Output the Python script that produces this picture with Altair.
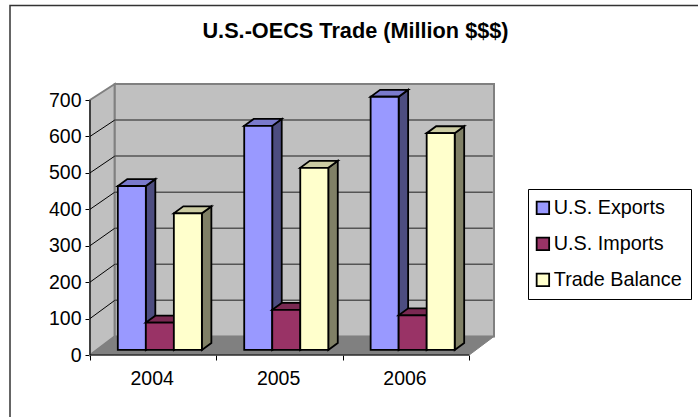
import altair as alt
import pandas as pd

# Trade figures by year, in million dollars
years = ["2004", "2005", "2006"]
series = ["U.S. Exports", "U.S. Imports", "Trade Balance"]
exports = [450, 615, 695]
imports = [75, 110, 95]
balance = [375, 500, 595]
value_ticks = [0, 100, 200, 300, 400, 500, 600, 700]

front_colors = ["#9999FF", "#993366", "#FFFFCC"]
side_colors = ["#4D4D80", "#4D1A33", "#808066"]
top_colors = ["#7A7ACC", "#7A2952", "#CCCCA3"]

# Projection of the pseudo-3D box, in category and value units
WALL_DX = 0.196
WALL_DY = 51
WALL_K = 0.99
BAR_START = 0.22
BAR_W = 0.2217
BAR_BASE = 14
BAR_DX = 0.075
BAR_DY = 19
X_MAX = len(years) + WALL_DX
Y_MAX = 744
FONT = "Liberation Sans"
FONT_SIZE = 19.5

n = len(years)
x_scale = alt.Scale(domain=[0, X_MAX], nice=False, zero=False)
y_scale = alt.Scale(domain=[0, Y_MAX], nice=False, zero=False)
X = alt.X(
    "x:Q",
    scale=x_scale,
    axis=alt.Axis(
        values=list(range(n + 1)),
        title=None,
        domain=False,
        grid=False,
        labels=False,
        tickColor="#000000",
        tickSize=5,
    ),
)
Y = alt.Y(
    "y:Q",
    scale=y_scale,
    axis=alt.Axis(
        values=value_ticks,
        title=None,
        domain=False,
        grid=False,
        tickColor="#000000",
        tickSize=5,
        labelFont=FONT,
        labelFontSize=FONT_SIZE,
        labelColor="#000000",
        labelPadding=4,
    ),
)
Y2 = alt.Y2("y2:Q")


def back(v):
    return v * WALL_K + WALL_DY


left_wall = pd.DataFrame(
    {"x": [0, WALL_DX], "y": [0, back(0)], "y2": [value_ticks[-1], back(value_ticks[-1])]}
)
back_wall = pd.DataFrame(
    {"x": [WALL_DX, X_MAX], "y": [back(0), back(0)], "y2": [Y_MAX, Y_MAX]}
)
floor = pd.DataFrame(
    {"x": [0, WALL_DX, n, X_MAX], "y": [0, 0, 0, back(0)], "y2": [0, back(0), back(0), back(0)]}
)

wall_style = dict(stroke="#808080", strokeWidth=2)
layers = [
    alt.Chart(left_wall).mark_area(fill="#C0C0C0", **wall_style).encode(x=X, y=Y, y2=Y2),
    alt.Chart(back_wall).mark_area(fill="#C0C0C0", **wall_style).encode(x=X, y=Y, y2=Y2),
    alt.Chart(floor).mark_area(fill="#808080", stroke="#808080", strokeWidth=1).encode(x=X, y=Y, y2=Y2),
]

# Gridlines run up the left wall and across the back wall
grid_values = value_ticks[1:-1]
wall_grid = pd.DataFrame(
    [{"v": v, "x": 0, "y": v} for v in grid_values]
    + [{"v": v, "x": WALL_DX, "y": back(v)} for v in grid_values]
)
back_grid = pd.DataFrame(
    [{"v": v, "x": WALL_DX, "y": back(v)} for v in grid_values]
    + [{"v": v, "x": X_MAX - 0.01, "y": back(v)} for v in grid_values]
)
layers.append(
    alt.Chart(wall_grid).mark_line(color="#000000", strokeWidth=1).encode(x=X, y=Y, detail="v:N")
)
layers.append(
    alt.Chart(back_grid).mark_line(color="#555555", strokeWidth=1.5).encode(x=X, y=Y, detail="v:N")
)

# Each bar is three faces, painted series by series from left to right
bar_style = dict(stroke="#000000", strokeWidth=1.8)
for s, (name, values) in enumerate(zip(series, [exports, imports, balance])):
    sides, tops, fronts = [], [], []
    for i, v in enumerate(values):
        l = i + BAR_START + s * BAR_W
        r = l + BAR_W
        t = v + BAR_BASE
        sides += [
            {"id": i, "x": r, "y": BAR_BASE, "y2": t},
            {"id": i, "x": r + BAR_DX, "y": BAR_BASE + BAR_DY, "y2": t + BAR_DY},
        ]
        tops += [
            {"id": i, "x": l, "y": t, "y2": t},
            {"id": i, "x": l + BAR_DX, "y": t, "y2": t + BAR_DY},
            {"id": i, "x": r, "y": t, "y2": t + BAR_DY},
            {"id": i, "x": r + BAR_DX, "y": t + BAR_DY, "y2": t + BAR_DY},
        ]
        fronts.append({"x": l, "x2": r, "y": BAR_BASE, "y2": t, "series": name})
    layers.append(
        alt.Chart(pd.DataFrame(sides)).mark_area(fill=side_colors[s], **bar_style)
        .encode(x=X, y=Y, y2=Y2, detail="id:N")
    )
    layers.append(
        alt.Chart(pd.DataFrame(tops)).mark_area(fill=top_colors[s], **bar_style)
        .encode(x=X, y=Y, y2=Y2, detail="id:N")
    )
    layers.append(
        alt.Chart(pd.DataFrame(fronts)).mark_rect(**bar_style).encode(
            x=X,
            x2="x2:Q",
            y=Y,
            y2=Y2,
            fill=alt.Fill(
                "series:N",
                scale=alt.Scale(domain=series, range=front_colors),
                legend=alt.Legend(
                    title=None,
                    orient="none",
                    legendX=438,
                    legendY=105,
                    fillColor="#FFFFFF",
                    strokeColor="#000000",
                    padding=9,
                    symbolType="square",
                    symbolSize=156,
                    symbolOffset=-4,
                    symbolStrokeColor="#000000",
                    symbolStrokeWidth=1.8,
                    labelFont=FONT,
                    labelFontSize=19.8,
                    labelColor="#000000",
                    rowPadding=15,
                    labelOffset=1,
                    labelLimit=200,
                ),
            ),
        )
    )

# Front edges of the box and the year labels
frame_y = pd.DataFrame({"x": [0, 0], "y": [0, value_ticks[-1]]})
frame_x = pd.DataFrame({"x": [0, n], "y": [0, 0]})
layers.append(alt.Chart(frame_y).mark_line(color="#000000", strokeWidth=1).encode(x=X, y=Y))
layers.append(alt.Chart(frame_x).mark_line(color="#000000", strokeWidth=1).encode(x=X, y=Y))
year_labels = pd.DataFrame({"x": [i + 0.5 for i in range(n)], "y": [0] * n, "year": years})
layers.append(
    alt.Chart(year_labels)
    .mark_text(font=FONT, fontSize=FONT_SIZE, color="#000000", dy=24, dx=-1)
    .encode(x=X, y=Y, text="year:N")
)

# Figure border: only the top and left edges fall inside the page
layers.append(
    alt.Chart(pd.DataFrame({"k": [0]})).mark_rect(fill="transparent", stroke="#333333", strokeWidth=1.5).encode(
        x=alt.value(-80), x2=alt.value(640), y=alt.value(-78.5), y2=alt.value(360)
    )
)

chart = (
    alt.layer(*layers)
    .resolve_scale(fill="shared")
    .properties(
        width=404,
        height=271,
        autosize=alt.AutoSizeParams(type="none"),
        padding={"left": 90, "top": 84, "right": 204, "bottom": 62},
        title=alt.TitleParams(
            "U.S.-OECS Trade (Million $$$)",
            font=FONT,
            fontSize=21.7,
            fontWeight="bold",
            color="#000000",
            anchor="middle",
            frame="group",
            dx=63.5,
            offset=-37.5,
        ),
    )
    .configure_view(stroke=None)
)

chart.save("out.html", embed_options={"renderer": "svg", "actions": False})
